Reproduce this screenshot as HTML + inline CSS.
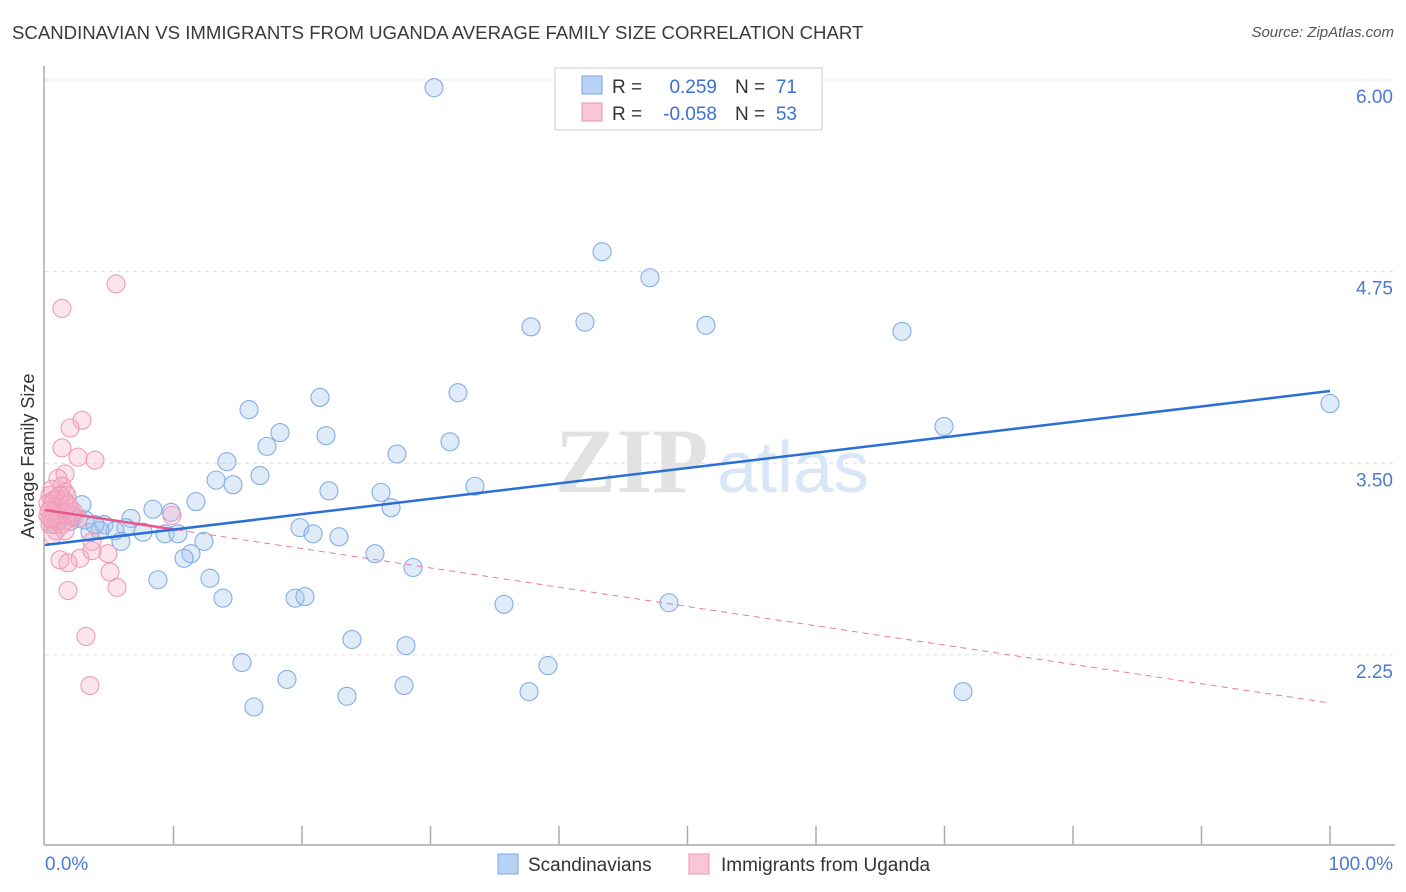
<!DOCTYPE html>
<html><head><meta charset="utf-8">
<style>
body{margin:0;background:#fff;font-family:"Liberation Sans",sans-serif;}
#wrap{position:relative;width:1406px;height:892px;overflow:hidden;}
.t{position:absolute;white-space:nowrap;}
</style></head>
<body>
<div id="wrap">
<div class="t" style="left:12px;top:22px;font-size:18.6px;color:#3a3a3a;">SCANDINAVIAN VS IMMIGRANTS FROM UGANDA AVERAGE FAMILY SIZE CORRELATION CHART</div>
<div class="t" style="right:12px;top:24px;font-size:15px;color:#555;font-style:italic;">Source: ZipAtlas.com</div>
<svg id="plot" width="1406" height="892" style="position:absolute;left:0;top:0"></svg>
</div>
<script>
const yTicks=[6.00,4.75,3.50,2.25];
const yTickLabels=["6.00","4.75","3.50","2.25"];
const xTickCount=10;
const blueX=[30.27,43.35,47.08,37.82,42.02,51.44,66.69,100,69.96,32.14,21.40,15.88,18.29,21.87,17.28,31.52,27.39,14.16,16.73,13.31,14.63,22.10,26.15,33.46,11.75,26.93,8.40,9.81,2.88,2.26,6.69,4.59,6.30,3.50,5.45,7.63,9.34,10.35,19.84,20.86,22.88,12.37,5.91,11.36,10.82,25.68,28.64,8.79,12.84,13.85,19.46,20.23,35.72,48.56,23.89,28.09,15.33,39.14,18.83,27.94,37.67,71.44,23.50,16.26,1.17,1.56,0.78,1.95,4.28,3.11,3.89];
const blueY=[5.95,4.88,4.71,4.39,4.42,4.40,4.36,3.89,3.74,3.96,3.93,3.85,3.70,3.68,3.61,3.64,3.56,3.51,3.42,3.39,3.36,3.32,3.31,3.35,3.25,3.21,3.20,3.18,3.23,3.15,3.14,3.10,3.08,3.05,3.06,3.05,3.04,3.04,3.08,3.04,3.02,2.99,2.99,2.91,2.88,2.91,2.82,2.74,2.75,2.62,2.62,2.63,2.58,2.59,2.35,2.31,2.20,2.18,2.09,2.05,2.01,2.01,1.98,1.91,3.13,3.16,3.10,3.12,3.06,3.13,3.10];
const pinkX=[5.53,1.32,2.88,1.95,1.32,2.57,3.89,1.56,1.01,1.32,1.56,2.57,9.88,3.66,4.90,2.72,1.17,1.79,5.06,5.60,1.79,3.19,3.50,3.66,0.39,0.54,0.78,0.23,0.62,0.93,1.17,1.40,0.39,0.86,0.23,1.63,1.95,0.54,1.01,1.32,0.70,1.09,1.48,0.31,0.93,1.71,2.10,0.62,1.17,1.56,0.39,2.26,1.79];
const pinkY=[4.67,4.51,3.78,3.73,3.60,3.54,3.52,3.43,3.40,3.35,3.31,3.14,3.16,2.99,2.91,2.88,2.87,2.85,2.79,2.69,2.67,2.37,2.05,2.93,3.29,3.23,3.19,3.16,3.13,3.27,3.24,3.18,3.10,3.06,3.24,3.13,3.21,3.33,3.16,3.10,3.26,3.21,3.26,3.19,3.12,3.29,3.16,3.03,3.29,3.06,3.14,3.18,3.23];
const blueTrend=[2.967,3.971];
const pinkTrend=[3.195,1.936];
const pinkSolidEnd=10.3;

const NS="http://www.w3.org/2000/svg";
const svg=document.getElementById('plot');
const X0=45,X1=1330,Y6=80,PX=(X1-X0)/100,PY=153.3;
const sx=p=>X0+p*PX, sy=v=>Y6+(6-v)*PY;
function mk(tag,attrs){const e=document.createElementNS(NS,tag);for(const k in attrs)e.setAttribute(k,attrs[k]);svg.appendChild(e);return e;}
yTicks.forEach((v,i)=>{
  const g=mk('line',{x1:X0,x2:1395,y1:sy(v),y2:sy(v),stroke:'#ddd','stroke-dasharray':'4,4'});
  
  
  const t=mk('text',{x:1393,y:sy(v)+23,'text-anchor':'end','font-size':19,fill:'#4a7bd0'});
  t.textContent=yTickLabels[i];
  
  
});
let a=mk('line',{x1:44,x2:44,y1:66,y2:845,stroke:'#aaa','stroke-width':1.5});


a=mk('line',{x1:44,x2:1395,y1:845,y2:845,stroke:'#aaa','stroke-width':1.5});


for(let i=1;i<=xTickCount;i++){
  const tk=mk('line',{x1:sx(i*10),x2:sx(i*10),y1:826,y2:845,stroke:'#aaa','stroke-width':1.5});
  
  
}
let tx=mk('text',{x:45,y:870,'font-size':19,fill:'#4a7bd0'});tx.textContent='0.0%';


tx=mk('text',{x:1393,y:870,'font-size':19,fill:'#4a7bd0','text-anchor':'end'});tx.textContent='100.0%';


tx=mk('text',{x:34,y:456,'font-size':18,fill:'#333','text-anchor':'middle',transform:'rotate(-90 34 456)'});tx.textContent='Average Family Size';


tx=mk('text',{x:555,y:492,'font-size':92,fill:'#e2e2e2','font-family':'Liberation Serif, serif','font-weight':'bold'});tx.textContent='ZIP';


tx=mk('text',{x:717,y:492,'font-size':72,fill:'#d9e6f7'});tx.textContent='atlas';


blueX.forEach((p,i)=>{
  const c=mk('circle',{cx:sx(p),cy:sy(blueY[i]),r:9,fill:'rgba(165,198,240,0.35)',stroke:'#82ade4','stroke-width':1.1});
  
  
});
pinkX.forEach((p,i)=>{
  const c=mk('circle',{cx:sx(p),cy:sy(pinkY[i]),r:9,fill:'rgba(245,170,195,0.32)',stroke:'#ee9bb6','stroke-width':1.1});
  
  
});
const pv=p=>pinkTrend[0]+(pinkTrend[1]-pinkTrend[0])*p/100;
let l=mk('line',{x1:sx(pinkSolidEnd),y1:sy(pv(pinkSolidEnd)),x2:sx(100),y2:sy(pinkTrend[1]),stroke:'#e87aa0','stroke-width':1,'stroke-dasharray':'6,5'});


l=mk('line',{x1:sx(0),y1:sy(pinkTrend[0]),x2:sx(pinkSolidEnd),y2:sy(pv(pinkSolidEnd)),stroke:'#e8588a','stroke-width':2.5});


l=mk('line',{x1:sx(0),y1:sy(blueTrend[0]),x2:sx(100),y2:sy(blueTrend[1]),stroke:'#2a6fd6','stroke-width':2.5});


let r=mk('rect',{x:555,y:68,width:267,height:62,fill:'#fff',stroke:'#ccc'});


r=mk('rect',{x:582,y:76,width:20,height:18,fill:'#b8d2f5',stroke:'#7aa6e0'});


r=mk('rect',{x:582,y:103,width:20,height:18,fill:'#f9c6d6',stroke:'#ec92b0'});


function txt(x,y,s,fill,name,anchor){const t=mk('text',{x:x,y:y,'font-size':19,fill:fill,'text-anchor':anchor||'start'});t.textContent=s;return t;}
txt(612,93,'R =','#333','stats-r-label');
txt(717,93,'0.259','#3a70d0','stats-r-blue','end');
txt(735,93,'N =','#333','stats-n-label');
txt(797,93,'71','#3a70d0','stats-n-blue','end');
txt(612,120,'R =','#333','stats-r-label');
txt(717,120,'-0.058','#3a70d0','stats-r-pink','end');
txt(735,120,'N =','#333','stats-n-label');
txt(797,120,'53','#3a70d0','stats-n-pink','end');
r=mk('rect',{x:498,y:854,width:20,height:20,fill:'#b8d2f5',stroke:'#7aa6e0'});


txt(528,871,'Scandinavians','#333','legend-scandinavians');
r=mk('rect',{x:689,y:854,width:20,height:20,fill:'#f9c6d6',stroke:'#ec92b0'});


txt(721,871,'Immigrants from Uganda','#333','legend-uganda');
</script>
</body></html>
